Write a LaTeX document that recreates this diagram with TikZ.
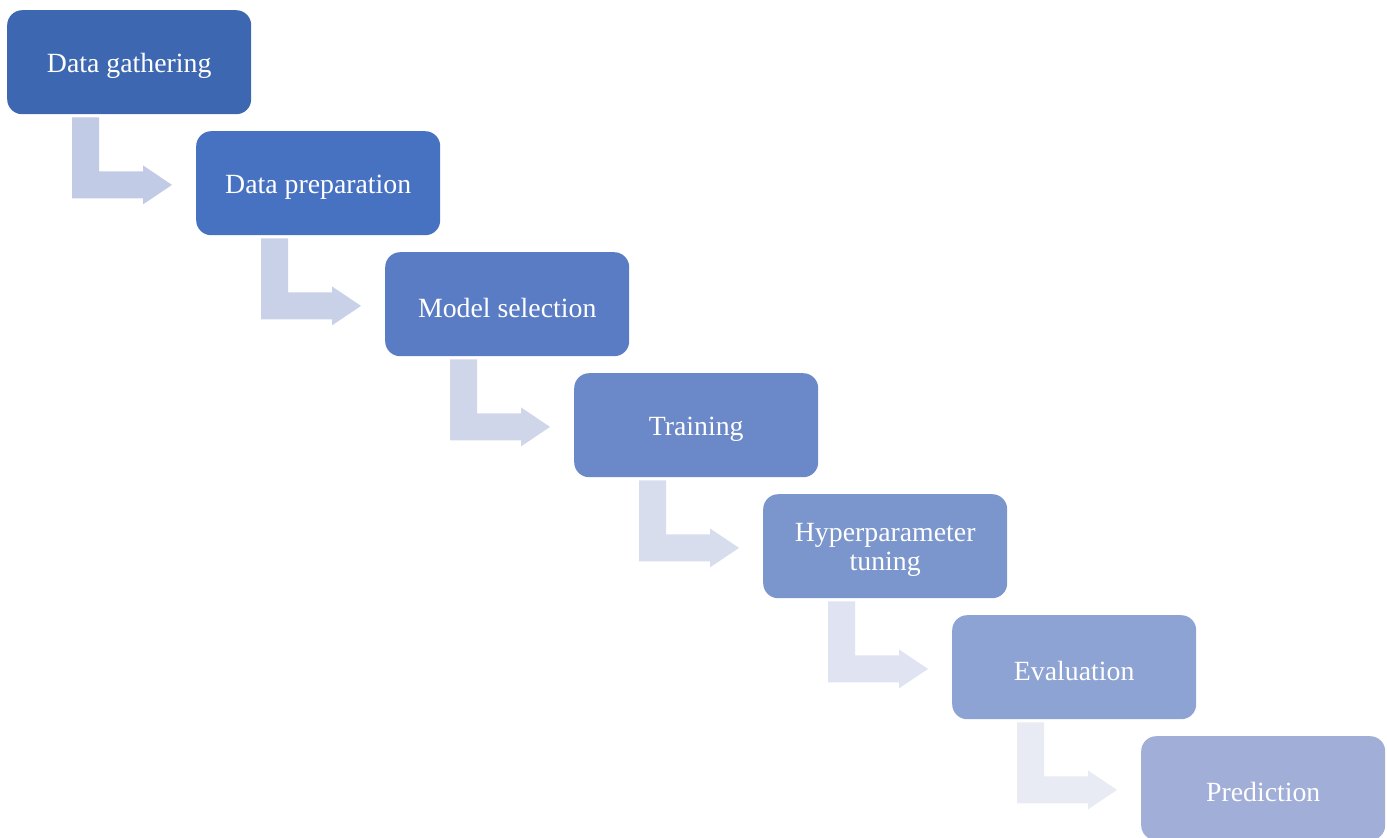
\documentclass[tikz,border=0pt]{standalone}
\usepackage{fontspec}
\setmainfont{Liberation Serif}
\usetikzlibrary{calc}
\definecolor{bA}{HTML}{3D68B1}
\definecolor{bB}{HTML}{4672C1}
\definecolor{bC}{HTML}{5A7CC4}
\definecolor{bD}{HTML}{6B88C8}
\definecolor{bE}{HTML}{7B96CC}
\definecolor{bF}{HTML}{8DA3D3}
\definecolor{bG}{HTML}{A0AED8}
\definecolor{aA}{HTML}{C1CBE5}
\definecolor{aB}{HTML}{C9D1E8}
\definecolor{aC}{HTML}{D0D6EA}
\definecolor{aD}{HTML}{D8DDEE}
\definecolor{aE}{HTML}{E0E3F1}
\definecolor{aF}{HTML}{E8EAF4}
\tikzset{
  stepbox/.style={rounded corners=15pt, minimum width=244pt, minimum height=104pt,
    inner sep=0pt, anchor=north west},
  steplabel/.style={text=white, align=center, yshift=-4pt, inner sep=0pt,
    font=\fontsize{27.8}{29}\selectfont}
}
\newcommand{\bentarrowpath}[3]{%
  \fill[#3] ($(#1.south west)+(65,3)$) coordinate (#2s)
    -- ++(27,0) -- ++(0,54) -- ++(44,0) -- ++(0,-6) -- ++(29,19.5) coordinate (#2t)
    -- ++(-29,19.5) -- ++(0,-6) -- ++(-71,0) -- cycle;}
\begin{document}
\begin{tikzpicture}[x=1pt,y=-1pt]
\useasboundingbox (0,0) rectangle (1387,838);
\node[stepbox, fill=bA, label={[steplabel]center:Data gathering}] (b1) at (7,10) {};
\node[stepbox, fill=bB, label={[steplabel]center:Data preparation}] (b2) at (196,131) {};
\node[stepbox, fill=bC, label={[steplabel]center:Model selection}] (b3) at (385,252) {};
\node[stepbox, fill=bD, label={[steplabel]center:Training}] (b4) at (574,373) {};
\node[stepbox, fill=bE, label={[steplabel]center:Hyperparameter\\tuning}] (b5) at (763,494) {};
\node[stepbox, fill=bF, label={[steplabel]center:Evaluation}] (b6) at (952,615) {};
\node[stepbox, fill=bG, label={[steplabel]center:Prediction}] (b7) at (1141,736) {};
\bentarrowpath{b1}{a1}{aA}
\bentarrowpath{b2}{a2}{aB}
\bentarrowpath{b3}{a3}{aC}
\bentarrowpath{b4}{a4}{aD}
\bentarrowpath{b5}{a5}{aE}
\bentarrowpath{b6}{a6}{aF}
\end{tikzpicture}
\end{document}
